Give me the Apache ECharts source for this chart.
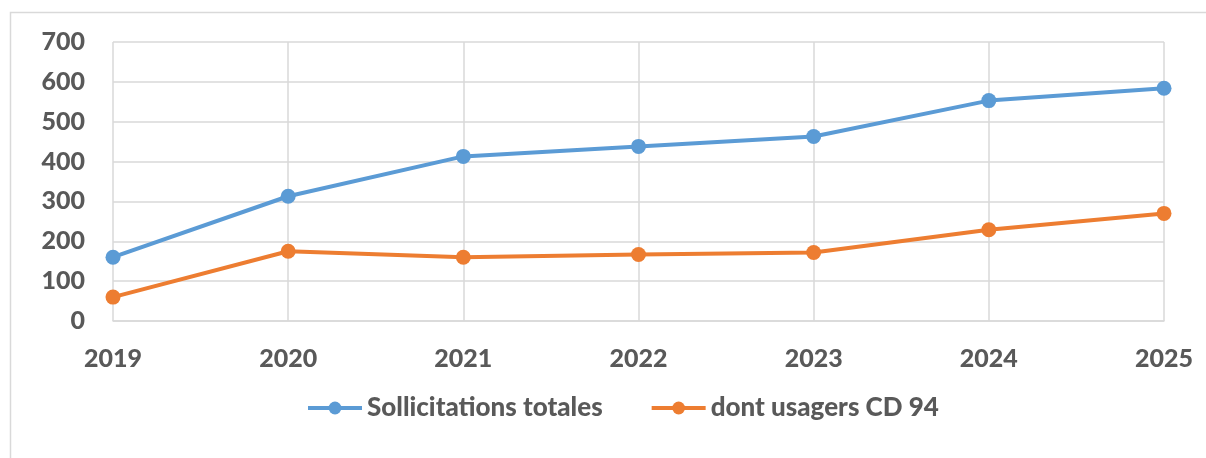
<!DOCTYPE html>
<html>
<head>
<meta charset="utf-8">
<script src="https://cdn.jsdelivr.net/npm/echarts@6/dist/echarts.min.js"></script>
<style>
html,body{margin:0;padding:0;background:#fff;}
#c{width:1206px;height:458px;}
</style>
</head>
<body>
<div id="c"></div>
<script>
var categories = ['2019','2020','2021','2022','2023','2024','2025'];
var totalValues = [160, 313, 413, 438, 463, 553, 584];
var cd94Values = [60, 175, 160, 167, 172, 229, 270];
var seriesNames = ['Sollicitations totales', 'dont usagers CD 94'];

var FONT = 'Lato';
var WEIGHT = 900;
var TXT = '#595959';
var chart = echarts.init(document.getElementById('c'));
chart.setOption({
  animation: false,
  backgroundColor: '#fff',
  graphic: [{
    type: 'polyline',
    shape: { points: [[10.5, 470], [10.5, 12.5], [1220, 12.5]] },
    style: { stroke: '#D9D9D9', lineWidth: 1.5, fill: null },
    silent: true
  }],
  grid: { left: 113, right: 42, top: 42, bottom: 137, containLabel: false },
  legend: {
    data: seriesNames,
    top: 390,
    left: 301,
    itemWidth: 54,
    itemHeight: 16,
    itemGap: 47,
    lineStyle: { width: 4 },
    textStyle: { fontFamily: FONT, fontWeight: WEIGHT, fontSize: 26, color: TXT }
  },
  xAxis: {
    type: 'category',
    data: categories,
    boundaryGap: false,
    axisLine: { show: true, lineStyle: { color: '#D9D9D9', width: 1.5 } },
    axisTick: { show: false },
    splitLine: { show: true, lineStyle: { color: '#D9D9D9', width: 1.5 } },
    axisLabel: { margin: 25, fontFamily: FONT, fontWeight: WEIGHT, fontSize: 25, color: TXT }
  },
  yAxis: {
    type: 'value',
    min: 0, max: 700, interval: 100,
    axisLine: { show: false },
    axisTick: { show: false },
    splitLine: { show: true, lineStyle: { color: '#D9D9D9', width: 1.5 } },
    axisLabel: { margin: 28, fontFamily: FONT, fontWeight: WEIGHT, fontSize: 25, color: TXT }
  },
  series: [{
    name: seriesNames[0],
    type: 'line',
    data: totalValues,
    symbol: 'circle',
    symbolSize: 15,
    itemStyle: { color: '#5B9BD5' },
    lineStyle: { color: '#5B9BD5', width: 4 }
  }, {
    name: seriesNames[1],
    type: 'line',
    data: cd94Values,
    symbol: 'circle',
    symbolSize: 15,
    itemStyle: { color: '#ED7D31' },
    lineStyle: { color: '#ED7D31', width: 4 }
  }]
});
</script>
</body>
</html>
